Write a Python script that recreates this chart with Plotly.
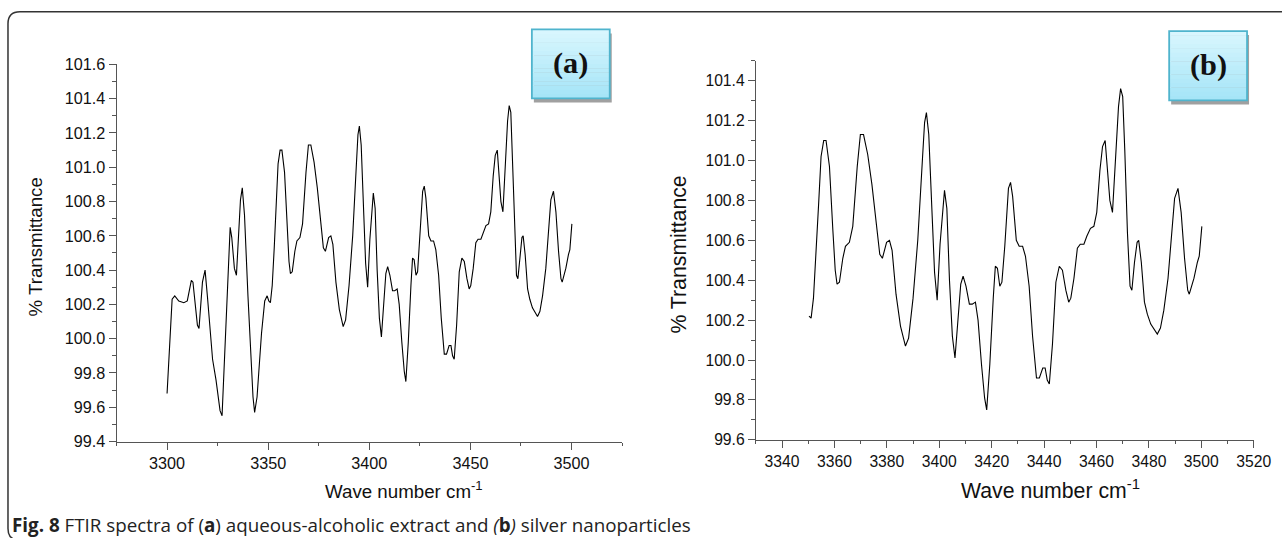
import plotly.graph_objects as go

# ---------------- data ----------------
wavenumber = [
    3300.0, 3301.2, 3302.5, 3303.8, 3305.8, 3308.3, 3310.0, 3312.0, 3312.8, 3315.0,
    3315.8, 3317.5, 3318.8, 3320.0, 3322.5, 3324.2, 3326.2, 3327.2, 3329.2, 3331.2,
    3332.0, 3333.3, 3334.3, 3336.3, 3337.2, 3338.3, 3340.0, 3342.5, 3343.3, 3344.5,
    3346.7, 3348.3, 3349.5, 3350.3, 3351.1, 3352.0, 3353.0, 3354.0, 3354.9, 3355.9,
    3356.8, 3358.1, 3359.4, 3360.3, 3361.0, 3361.9, 3363.2, 3364.2, 3365.7, 3367.0,
    3368.7, 3369.9, 3371.1, 3372.7, 3374.3, 3375.8, 3377.3, 3378.3, 3379.9, 3381.0,
    3382.0, 3383.5, 3385.2, 3387.1, 3388.3, 3390.0, 3391.8, 3393.6, 3394.4, 3395.1,
    3396.0, 3397.3, 3398.2, 3399.2, 3400.3, 3402.0, 3402.9, 3403.9, 3405.0, 3406.0,
    3407.0, 3408.2, 3409.1, 3410.2, 3411.5, 3412.6, 3413.8, 3414.8, 3416.1, 3417.3,
    3418.1, 3419.3, 3420.6, 3421.4, 3422.2, 3423.1, 3423.9, 3425.0, 3426.4, 3427.2,
    3428.0, 3429.4, 3430.5, 3431.8, 3432.9, 3434.3, 3435.6, 3437.1, 3438.2, 3439.5,
    3440.4, 3441.2, 3442.0, 3443.2, 3444.5, 3445.8, 3447.0, 3448.3, 3449.4, 3450.2,
    3451.4, 3452.7, 3453.8, 3455.2, 3456.3, 3457.7, 3459.0, 3460.1, 3461.3, 3462.3,
    3463.3, 3464.3, 3465.1, 3466.1, 3467.2, 3468.4, 3469.2, 3470.0, 3470.8, 3471.8,
    3472.8, 3473.5, 3474.5, 3475.5, 3476.1, 3477.1, 3478.3, 3479.4, 3480.7, 3482.1,
    3483.2, 3484.4, 3485.7, 3487.3, 3488.6, 3489.8, 3491.1, 3492.3, 3493.6, 3494.8,
    3495.4, 3496.4, 3497.2, 3498.5, 3499.2, 3500.2,
]
transmittance = [
    99.68, 99.95, 100.23, 100.25, 100.22, 100.21, 100.22, 100.34, 100.33, 100.08,
    100.06, 100.33, 100.40, 100.24, 99.88, 99.76, 99.58, 99.55, 100.07, 100.65,
    100.59, 100.41, 100.37, 100.81, 100.88, 100.72, 100.25, 99.66, 99.57, 99.66,
    100.03, 100.22, 100.25, 100.22, 100.21, 100.31, 100.53, 100.79, 101.02, 101.10,
    101.10, 100.97, 100.65, 100.45, 100.38, 100.39, 100.51, 100.57, 100.59, 100.67,
    100.97, 101.13, 101.13, 101.03, 100.88, 100.70, 100.53, 100.51, 100.59, 100.60,
    100.55, 100.33, 100.17, 100.07, 100.11, 100.31, 100.60, 101.01, 101.19, 101.24,
    101.13, 100.72, 100.44, 100.30, 100.58, 100.85, 100.76, 100.40, 100.12, 100.01,
    100.20, 100.38, 100.42, 100.37, 100.28, 100.28, 100.29, 100.20, 99.98, 99.81,
    99.75, 99.98, 100.31, 100.47, 100.46, 100.37, 100.39, 100.57, 100.86, 100.89,
    100.82, 100.60, 100.57, 100.57, 100.52, 100.37, 100.12, 99.91, 99.91, 99.96,
    99.96, 99.90, 99.88, 100.08, 100.39, 100.47, 100.45, 100.35, 100.29, 100.31,
    100.41, 100.56, 100.58, 100.58, 100.62, 100.66, 100.67, 100.74, 100.95, 101.07,
    101.10, 100.95, 100.80, 100.74, 100.99, 101.27, 101.36, 101.32, 101.05, 100.64,
    100.37, 100.35, 100.49, 100.59, 100.60, 100.49, 100.29, 100.23, 100.18, 100.15,
    100.13, 100.16, 100.25, 100.41, 100.60, 100.81, 100.86, 100.74, 100.51, 100.35,
    100.33, 100.37, 100.41, 100.49, 100.52, 100.67,
]
# panel (b) shows the same spectrum from 3350 cm-1 on
b_start = 3350.0
wn_b = [w for w in wavenumber if w >= b_start]
tr_b = [t for w, t in zip(wavenumber, transmittance) if w >= b_start]

panel_labels = ["(a)", "(b)"]
y_title = "% Transmittance"
x_title = "Wave number cm<sup>-1</sup>"
caption = ("<b>Fig. 8</b> FTIR spectra of (<b>a</b>) aqueous-alcoholic extract and "
           "<i>(</i><b>b</b><i>)</i> silver nanoparticles")

# ---------------- layout helpers ----------------
# Page-to-picture mapping of the capture (measured): picture = S * page.
SX, SY = 0.9877, 0.9676
OYP = 7.5                 # page offset of the figure (px) with body margin 0
W, H = 1300, 548
def px(x):
    return (x / SX) / W
def py(y):
    return 1 - (y / SY - OYP) / H
def fs(s):
    return round(s / SX, 2)

SANS = "Liberation Sans"
AX = "#555555"

fig = go.Figure()
fig.add_trace(go.Scatter(x=wavenumber, y=transmittance, mode="lines",
                         line=dict(color="black", width=1.1),
                         xaxis="x", yaxis="y", showlegend=False, hoverinfo="skip"))
fig.add_trace(go.Scatter(x=wn_b, y=tr_b, mode="lines",
                         line=dict(color="black", width=1.1),
                         xaxis="x2", yaxis="y2", showlegend=False, hoverinfo="skip"))

def xax(domain, rng, dtick, tick0, mdtick, mtick0, anchor, size):
    return dict(domain=domain, range=rng, anchor=anchor, dtick=dtick, tick0=tick0,
                ticks="outside", ticklen=7, tickwidth=1, tickcolor=AX,
                showline=True, linecolor=AX, linewidth=1, showgrid=False,
                zeroline=False, fixedrange=True,
                tickfont=dict(family=SANS, size=fs(size), color="#111"),
                minor=dict(dtick=mdtick, tick0=mtick0, ticks="outside", ticklen=3,
                           tickwidth=1, tickcolor=AX, showgrid=False))

def yax(domain, rng, tick0, anchor, size):
    return dict(domain=domain, range=rng, anchor=anchor, dtick=0.2, tick0=tick0,
                tickformat=".1f",
                ticks="outside", ticklen=7, tickwidth=1, tickcolor=AX,
                showline=True, linecolor=AX, linewidth=1, showgrid=False,
                zeroline=False, fixedrange=True,
                tickfont=dict(family=SANS, size=fs(size), color="#111"),
                minor=dict(dtick=0.1, tick0=tick0, ticks="outside", ticklen=4,
                           tickwidth=1, tickcolor=AX, showgrid=False))

layout = dict(
    width=W, height=H, margin=dict(l=0, r=0, t=0, b=0),
    paper_bgcolor="white", plot_bgcolor="white",
    xaxis=xax([px(116.7), px(623)], [3275, 3525], 50, 3300, 25, 3275, "y", 16),
    yaxis=yax([py(440), py(62.7)], [99.4, 101.6], 99.4, "x", 16),
    xaxis2=xax([px(757), px(1255.7)], [3330, 3520], 20, 3340, 10, 3330, "y2", 15.5),
    yaxis2=yax([py(438.3), py(59)], [99.6, 101.5], 99.6, "x2", 15.5),
)
fig.update_layout(**layout)

ann = []
ann.append(dict(x=px(36), y=py(245), xref="paper", yref="paper", text=y_title,
                textangle=-90, showarrow=False, xanchor="center", yanchor="middle",
                font=dict(family=SANS, size=fs(18.5), color="#111")))
ann.append(dict(x=px(680), y=py(253), xref="paper", yref="paper", text=y_title,
                textangle=-90, showarrow=False, xanchor="center", yanchor="middle",
                font=dict(family=SANS, size=fs(21), color="#111")))
ann.append(dict(x=px(405), y=py(488), xref="paper", yref="paper", text=x_title,
                showarrow=False, xanchor="center", yanchor="middle",
                font=dict(family=SANS, size=fs(18.5), color="#111")))
ann.append(dict(x=px(1052), y=py(488), xref="paper", yref="paper", text=x_title,
                showarrow=False, xanchor="center", yanchor="middle",
                font=dict(family=SANS, size=fs(21), color="#111")))
ann.append(dict(x=px(10), y=py(523), xref="paper", yref="paper", text=caption,
                showarrow=False, xanchor="left", yanchor="middle",
                font=dict(family="Open Sans", size=18.8, color="#222")))

shapes = []
# outer frame (top line and rounded left edge)
frame = (f"M {px(1284)},{py(10)} L {px(20)},{py(10)} "
         f"Q {px(8)},{py(10)} {px(8)},{py(22)} L {px(8)},{py(527)} "
         f"Q {px(8)},{py(537)} {px(16)},{py(538)}")
shapes.append(dict(type="path", path=frame, xref="paper", yref="paper",
                   line=dict(color="#333", width=1.5)))

boxes = [(532.7, 27.7, 610.7, 96.7), (1171, 29.3, 1249, 98.7)]
top_c = (218, 247, 254)
bot_c = (164, 228, 247)
n = 16
for (x0, y0, x1, y1), lab in zip(boxes, panel_labels):
    shapes.append(dict(type="rect", xref="paper", yref="paper",
                       x0=px(x0 + 2), x1=px(x1 + 2), y0=py(y1 + 4), y1=py(y0 + 4),
                       fillcolor="#a0a0a0", line=dict(width=0)))
    for i in range(n):
        f = (i + 0.5) / n
        c = tuple(round(top_c[k] + (bot_c[k] - top_c[k]) * f) for k in range(3))
        ya = y0 + (y1 - y0) * i / n
        yb = y0 + (y1 - y0) * (i + 1) / n
        shapes.append(dict(type="rect", xref="paper", yref="paper",
                           x0=px(x0), x1=px(x1), y0=py(yb + 0.3), y1=py(ya),
                           fillcolor=f"rgb{c}", line=dict(width=0)))
    shapes.append(dict(type="rect", xref="paper", yref="paper",
                       x0=px(x0), x1=px(x1), y0=py(y1), y1=py(y0),
                       fillcolor="rgba(0,0,0,0)", line=dict(color="#4fb4cd", width=1.8)))
    ann.append(dict(x=px((x0 + x1) / 2), y=py((y0 + y1) / 2 - 1), xref="paper", yref="paper",
                    text=f"<b>{lab}</b>", showarrow=False, xanchor="center", yanchor="middle",
                    font=dict(family="Liberation Serif", size=fs(30), color="#111")))

fig.update_layout(annotations=ann, shapes=shapes)
fig.write_html(
    "out.html",
    config={"displayModeBar": False},
    post_script="document.body.style.margin='0px';document.body.style.padding='0px';"
                "document.body.style.overflow='hidden';"
                "document.documentElement.style.overflow='hidden';",
)
